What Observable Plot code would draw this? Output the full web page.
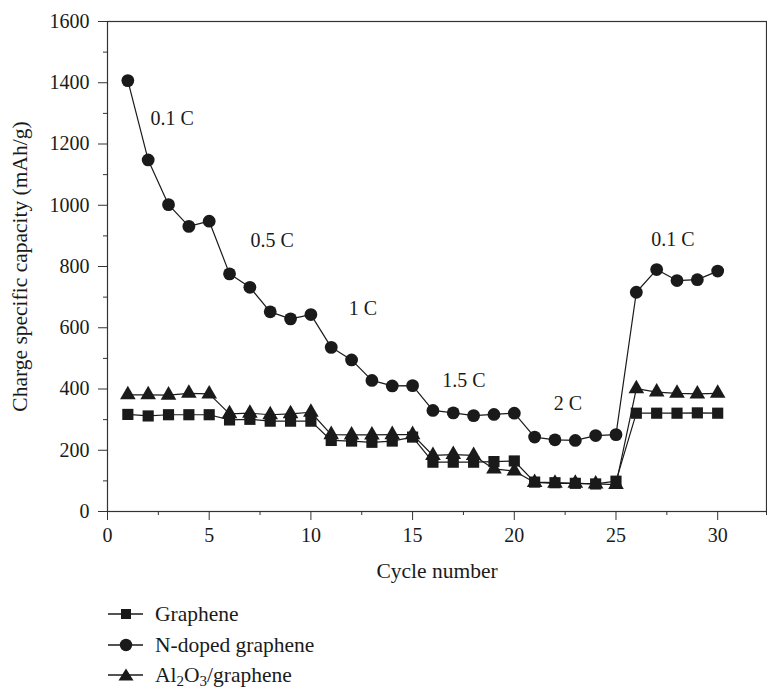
<!DOCTYPE html>
<html>
<head>
<meta charset="utf-8">
<script src="https://cdn.jsdelivr.net/npm/d3@7"></script>
<script src="https://cdn.jsdelivr.net/npm/@observablehq/plot@0.6"></script>
<style>
  html, body { margin: 0; padding: 0; background: #fff; }
  #wrap { position: relative; width: 767px; height: 688px; overflow: hidden; font-family: "Liberation Serif", "DejaVu Serif", serif; color: #1a1a1a; }
  #chart svg { display: block; }
  .leg { position: absolute; left: 106px; height: 28px; display: flex; align-items: center; font-size: 21.5px; line-height: 24px; white-space: nowrap; }
  .leg svg { width: 40px; height: 20px; margin-right: 9px; flex: none; }
  .leg sub { font-size: 0.7em; vertical-align: -0.25em; line-height: 0; }
</style>
</head>
<body>
<div id="wrap">
  <div id="chart"></div>
  <div id="legend"></div>
</div>
<script>
const cycles = d3.range(1, 31);
const graphene = [317, 312, 316, 316, 316, 299, 301, 295, 295, 295, 232, 230, 226, 230, 243, 161, 161, 161, 163, 165, 96, 94, 92, 90, 99, 321, 321, 321, 322, 321];
const nDoped   = [1407, 1148, 1002, 931, 948, 776, 732, 652, 629, 643, 536, 495, 428, 410, 411, 330, 322, 313, 317, 321, 243, 234, 232, 248, 251, 716, 790, 754, 757, 785];
const al2o3    = [381, 381, 380, 386, 384, 319, 321, 316, 319, 324, 251, 250, 250, 251, 251, 183, 186, 183, 139, 132, 95, 92, 92, 90, 88, 401, 390, 386, 384, 386];

const seriesNames = ["Graphene", "N-doped graphene", "Al2O3/graphene"];

const rateLabels = ["0.1 C", "0.5 C", "1 C", "1.5 C", "2 C", "0.1 C"];
const rateLabelX = [3.18, 8.1, 12.56, 17.52, 22.64, 27.8];
const rateLabelY = [1283, 885, 662, 428, 352, 888];

const xTicks = [0, 5, 10, 15, 20, 25, 30];
const xMinor = [2.5, 7.5, 12.5, 17.5, 22.5, 27.5, 32.4];
const yTicks = [0, 200, 400, 600, 800, 1000, 1200, 1400, 1600];
const yMinor = [100, 300, 500, 700, 900, 1100, 1300, 1500];

const ink = "#1a1a1a";

const rows = (vals, name) => vals.map((v, i) => ({cycle: cycles[i], value: v, series: name}));
const dG = rows(graphene, seriesNames[0]);
const dN = rows(nDoped, seriesNames[1]);
const dA = rows(al2o3, seriesNames[2]);
const labels = rateLabels.map((t, i) => ({t, x: rateLabelX[i], y: rateLabelY[i]}));

const lineOpts = {x: "cycle", y: "value", stroke: ink, strokeWidth: 1.2};
const chart = Plot.plot({
  width: 767,
  height: 590,
  marginLeft: 107,
  marginRight: 1,
  marginTop: 21,
  marginBottom: 79,
  x: {domain: [0, 32.4]},
  y: {domain: [0, 1600]},
  style: {fontFamily: "'Liberation Serif', 'DejaVu Serif', serif", fontSize: "20px", color: ink, background: "#fff"},
  marks: [
    Plot.frame({stroke: "#333", strokeWidth: 1.2}),
    Plot.axisX({ticks: xTicks, tickSize: 9, tickPadding: 7, tickFormat: d3.format("d"), stroke: "#333", label: null}),
    Plot.axisX({ticks: [], label: "Cycle number", labelAnchor: "center", labelArrow: "none", labelOffset: 66, fontSize: 21.5}),
    Plot.axisX({ticks: xMinor, tickSize: 4, tickFormat: () => "", label: null, stroke: "#333"}),
    Plot.axisY({ticks: yTicks, tickSize: 9, tickPadding: 9, tickFormat: d3.format("d"), stroke: "#333", label: null}),
    Plot.axisY({ticks: [], label: "Charge specific capacity (mAh/g)", labelAnchor: "center", labelArrow: "none", labelOffset: 96, fontSize: 21.5}),
    Plot.axisY({ticks: yMinor, tickSize: 4, tickFormat: () => "", label: null, stroke: "#333"}),
    Plot.line(dA, lineOpts),
    Plot.dot(dA, {x: "cycle", y: "value", symbol: "triangle", r: 5.8, fill: ink, stroke: "none"}),
    Plot.line(dG, lineOpts),
    Plot.dot(dG, {x: "cycle", y: "value", symbol: "square", r: 6.3, fill: ink, stroke: "none"}),
    Plot.line(dN, lineOpts),
    Plot.dot(dN, {x: "cycle", y: "value", symbol: "circle", r: 6.4, fill: ink, stroke: "none"}),
    Plot.text(labels, {x: "x", y: "y", text: "t", fontSize: 20, fill: ink})
  ]
});
document.getElementById("chart").appendChild(chart);

// Legend (HTML, below the plot)
const legendTops = [600, 631, 661];
const legendHtml = [
  {name: "Graphene", marker: '<rect x="15" y="5" width="10" height="10" fill="' + ink + '"/>'},
  {name: "N-doped graphene", marker: '<circle cx="20" cy="10" r="6.2" fill="' + ink + '"/>'},
  {name: "Al<sub>2</sub>O<sub>3</sub>/graphene", marker: '<path d="M20,3.5 L27.5,15.5 L12.5,15.5 Z" fill="' + ink + '"/>'}
];
const legend = document.getElementById("legend");
legendHtml.forEach((d, i) => {
  const row = document.createElement("div");
  row.className = "leg";
  row.style.top = legendTops[i] + "px";
  row.innerHTML = '<svg viewBox="0 0 40 20"><line x1="2" y1="10" x2="37" y2="10" stroke="' + ink + '" stroke-width="1.3"/>' + d.marker + '</svg><span>' + d.name + '</span>';
  legend.appendChild(row);
});
</script>
</body>
</html>
